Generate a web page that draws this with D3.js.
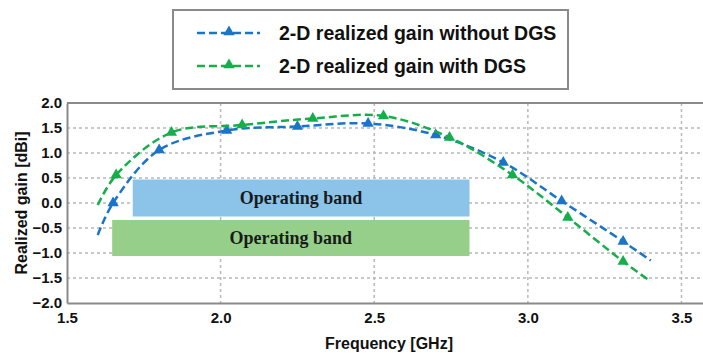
<!DOCTYPE html>
<html>
<head>
<meta charset="utf-8">
<script src="https://cdn.jsdelivr.net/npm/d3@7"></script>
<style>
  body { margin: 0; background: #fff; }
  svg { display: block; }
  .tick text { font-family: "Liberation Sans", Arial, sans-serif; font-weight: bold; font-size: 15px; fill: #111; }
  .title { font-family: "Liberation Sans", Arial, sans-serif; font-weight: bold; font-size: 16px; fill: #111; }
  .legend-text { font-family: "Liberation Sans", Arial, sans-serif; font-weight: bold; font-size: 19.5px; fill: #111; }
  .band-text { font-family: "Liberation Serif", "Times New Roman", serif; font-weight: bold; font-size: 18px; fill: #1a1a1a; }
</style>
</head>
<body>
<svg></svg>
<script>
// data
const freqNoDgs = [1.60, 1.65, 1.80, 2.02, 2.25, 2.48, 2.70, 2.92, 3.11, 3.31, 3.40]
const gainNoDgs = [-0.64, 0.00, 1.06, 1.45, 1.53, 1.59, 1.36, 0.81, 0.04, -0.77, -1.15]
const freqDgs = [1.60, 1.66, 1.84, 2.07, 2.30, 2.53, 2.745, 2.95, 3.13, 3.31, 3.40]
const gainDgs = [-0.04, 0.56, 1.41, 1.56, 1.69, 1.74, 1.31, 0.56, -0.29, -1.17, -1.57]

const seriesNames = ["2-D realized gain without DGS", "2-D realized gain with DGS"]
const seriesColors = ["#1a74c8", "#16ad4b"]

const bandLabels = ["Operating band", "Operating band"]
const bandStart = [1.714, 1.647]
const bandEnd = [2.81, 2.81]
const bandTop = [0.47, -0.34]
const bandBottom = [-0.27, -1.06]
const bandColors = ["#8cc3e9", "#96cf8a"]

const xTicks = [1.5, 2.0, 2.5, 3.0, 3.5]
const yTicks = [-2.0, -1.5, -1.0, -0.5, 0.0, 0.5, 1.0, 1.5, 2.0]

const svg = d3.select("svg")
    .attr("width", 703)
    .attr("height", 356)

const x = d3.scaleLinear()
    .domain([1.5, 3.57])
    .range([67, 703])

const y = d3.scaleLinear()
    .domain([-2, 2])
    .range([303, 103])

// grid
svg.append("g")
    .selectAll("line")
    .data(yTicks.filter(d => d > -2 && d < 2))
    .enter()
    .append("line")
    .attr("x1", x(1.5))
    .attr("x2", 703)
    .attr("y1", d => y(d))
    .attr("y2", d => y(d))
    .attr("stroke", "#b8b8b8")
    .attr("stroke-width", 1.5)
    .attr("stroke-dasharray", "3,3")

svg.append("g")
    .selectAll("line")
    .data(xTicks.filter(d => d > 1.5))
    .enter()
    .append("line")
    .attr("x1", d => x(d))
    .attr("x2", d => x(d))
    .attr("y1", y(2))
    .attr("y2", y(-2))
    .attr("stroke", "#b8b8b8")
    .attr("stroke-width", 1.5)
    .attr("stroke-dasharray", "3,3")

// operating bands
const bands = bandLabels.map((d, i) => ({label: d, x0: bandStart[i], x1: bandEnd[i], top: bandTop[i], bottom: bandBottom[i], color: bandColors[i]}))

svg.append("g")
    .selectAll("rect")
    .data(bands)
    .enter()
    .append("rect")
    .attr("x", d => x(d.x0))
    .attr("y", d => y(d.top))
    .attr("width", d => x(d.x1) - x(d.x0))
    .attr("height", d => y(d.bottom) - y(d.top))
    .attr("fill", d => d.color)

svg.append("g")
    .selectAll("text")
    .data(bands)
    .enter()
    .append("text")
    .attr("class", "band-text")
    .attr("x", d => (x(d.x0) + x(d.x1)) / 2)
    .attr("y", d => (y(d.top) + y(d.bottom)) / 2)
    .attr("dy", "0.35em")
    .attr("text-anchor", "middle")
    .text(d => d.label)

// axes
svg.append("g")
    .attr("transform", `translate(${x(1.5)},0)`)
    .call(d3.axisLeft(y).tickValues(yTicks).tickSize(0).tickPadding(5).tickFormat(d3.format(".1f")))
    .call(g => g.select(".domain").attr("stroke", "#8a8a8a").attr("stroke-width", 2))

svg.append("g")
    .attr("transform", `translate(0,${y(-2)})`)
    .call(d3.axisBottom(x).tickValues(xTicks).tickSize(0).tickPadding(9).tickFormat(d3.format(".1f")))
    .call(g => g.select(".domain").attr("stroke", "#8a8a8a").attr("stroke-width", 2))

svg.append("line")
    .attr("x1", x(1.5))
    .attr("x2", 703)
    .attr("y1", y(2))
    .attr("y2", y(2))
    .attr("stroke", "#8a8a8a")
    .attr("stroke-width", 2)

svg.append("text")
    .attr("class", "title")
    .attr("x", 389)
    .attr("y", 349)
    .attr("text-anchor", "middle")
    .text("Frequency [GHz]")

svg.append("text")
    .attr("class", "title")
    .attr("transform", `translate(27,${y(0)}) rotate(-90)`)
    .attr("text-anchor", "middle")
    .text("Realized gain [dBi]")

// curves
const series = [
    freqNoDgs.map((f, i) => ({f: f, g: gainNoDgs[i]})),
    freqDgs.map((f, i) => ({f: f, g: gainDgs[i]}))
]

const lineGenerator = d3.line()
    .x(d => x(d.f))
    .y(d => y(d.g))
    .curve(d3.curveCatmullRom.alpha(0.5))

const tri = d3.symbol().type(d3.symbolTriangle).size(55)

series.forEach((s, k) => {
    svg.append("path")
        .datum(s)
        .attr("d", lineGenerator)
        .attr("fill", "none")
        .attr("stroke", seriesColors[k])
        .attr("stroke-width", 2.5)
        .attr("stroke-dasharray", "8,4")

    svg.append("g")
        .selectAll("path")
        .data(s.slice(1, -1))
        .enter()
        .append("path")
        .attr("d", tri)
        .attr("transform", d => `translate(${x(d.f)},${y(d.g)})`)
        .attr("fill", seriesColors[k])
})

// legend
svg.append("rect")
    .attr("x", 173)
    .attr("y", 10)
    .attr("width", 395)
    .attr("height", 79)
    .attr("fill", "#fff")
    .attr("stroke", "#8a8a8a")
    .attr("stroke-width", 2)

const legend = svg.selectAll("g.legend")
    .data(seriesNames)
    .enter()
    .append("g")
    .attr("class", "legend")
    .attr("transform", (d, i) => `translate(0,${33 + i * 33})`)

legend.append("line")
    .attr("x1", 197)
    .attr("x2", 260)
    .attr("stroke", (d, i) => seriesColors[i])
    .attr("stroke-width", 2.5)
    .attr("stroke-dasharray", "8,4")

legend.append("path")
    .attr("d", tri)
    .attr("transform", "translate(229,-1)")
    .attr("fill", (d, i) => seriesColors[i])

legend.append("text")
    .attr("class", "legend-text")
    .attr("x", 279)
    .attr("y", 7)
    .text(d => d)
</script>
</body>
</html>
